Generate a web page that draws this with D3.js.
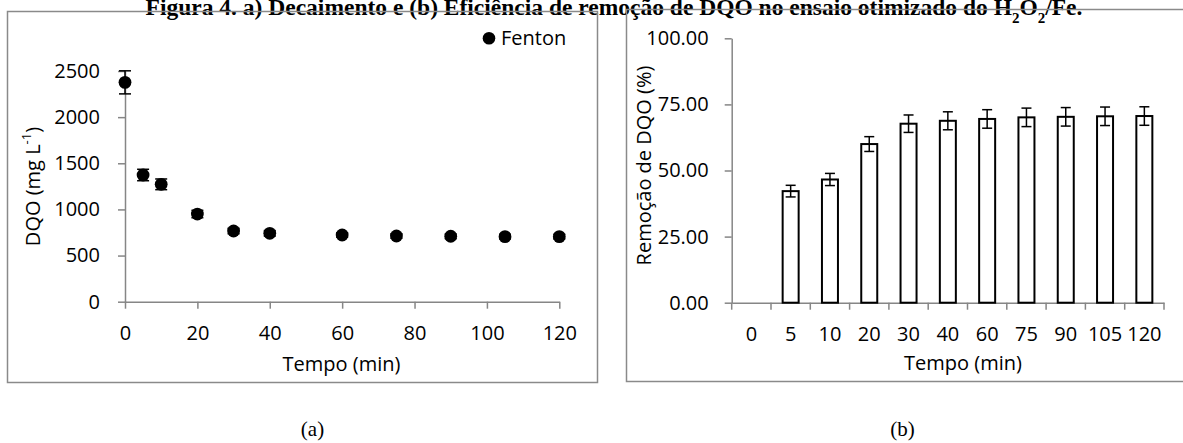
<!DOCTYPE html>
<html><head><meta charset="utf-8">
<script src="https://cdn.jsdelivr.net/npm/d3@7"></script>
<style>
body{margin:0;background:#fff;}
svg{display:block;}
text{font-family:"Open Sans",sans-serif;fill:#000;}
</style></head>
<body>
<script>
// ---- data ----
const timesA = [0,5,10,20,30,40,60,75,90,105,120];
const dqo    = [2377,1373,1272,950,766,741,723,712,709,705,705];
const dqoErr = [125,62,58,40,30,30,25,25,25,25,25];
const xTicksA = [0,20,40,60,80,100,120];
const yTicksA = [0,500,1000,1500,2000,2500];

const catsB  = ["0","5","10","20","30","40","60","75","90","105","120"];
const remocao = [0,42.2,46.6,60.0,67.7,68.8,69.5,70.1,70.3,70.5,70.6];
const remErr  = [0,2.2,2.3,2.8,3.3,3.4,3.5,3.5,3.5,3.5,3.5];
const yTicksB = [0,25,50,75,100];

const W=1183,H=443;
const svg=d3.select("body").append("svg").attr("width",W).attr("height",H);
const axisCol="#868686";

// title
svg.append("text").attr("x",614).attr("y",15).attr("text-anchor","middle")
  .style("font-family","'Liberation Serif','Times New Roman',serif").style("font-weight","bold").style("font-size","23.5px")
  .html('Figura 4. a) Decaimento e (b) Eficiência de remoção de DQO no ensaio otimizado do H<tspan baseline-shift="sub" font-size="15px">2</tspan>O<tspan baseline-shift="sub" font-size="15px">2</tspan>/Fe.');

// panel borders
svg.append("rect").attr("x",7.5).attr("y",11.5).attr("width",590).attr("height",371)
  .attr("fill","none").attr("stroke","#8a8a8a").attr("stroke-width",1.5);
svg.append("rect").attr("x",626.5).attr("y",9.5).attr("width",600).attr("height",372)
  .attr("fill","none").attr("stroke","#8a8a8a").attr("stroke-width",1.5);

// ---------- chart A ----------
const xA=d3.scaleLinear().domain([0,120]).range([125,559.3]);
const yA=d3.scaleLinear().domain([0,2500]).range([301.7,71]);
function styleAxis(g){
  g.selectAll("path,line").attr("stroke",axisCol).attr("stroke-width",1.5);
  g.selectAll("text").style("font-size","20px").style("font-family","'Open Sans',sans-serif").attr("fill","#000");
}
svg.append("g").attr("transform",`translate(0,${yA(0)})`)
  .call(d3.axisBottom(xA).tickValues(xTicksA).tickFormat(d3.format("d")).tickSize(7).tickSizeOuter(0).tickPadding(17))
  .call(styleAxis);
svg.append("g").attr("transform",`translate(${xA(0)},0)`)
  .call(d3.axisLeft(yA).tickValues(yTicksA).tickFormat(d3.format("d")).tickSize(7).tickSizeOuter(0).tickPadding(18))
  .call(styleAxis);

const gA=svg.append("g");
timesA.forEach((t,i)=>{
  const cx=xA(t), v=dqo[i], e=dqoErr[i];
  gA.append("line").attr("x1",cx).attr("x2",cx).attr("y1",yA(v-e)).attr("y2",yA(v+e)).attr("stroke","#000").attr("stroke-width",1.5);
  [v-e,v+e].forEach(vv=>gA.append("line").attr("x1",cx-6).attr("x2",cx+6).attr("y1",yA(vv)).attr("y2",yA(vv)).attr("stroke","#000").attr("stroke-width",1.5));
  gA.append("circle").attr("cx",cx).attr("cy",yA(v)).attr("r",6.4).attr("fill","#000");
});
// legend
svg.append("circle").attr("cx",489).attr("cy",38.3).attr("r",6.3).attr("fill","#000");
svg.append("text").attr("x",501).attr("y",45).style("font-size","20px").text("Fenton");
// axis labels
svg.append("text").attr("x",341.5).attr("y",371).attr("text-anchor","middle").style("font-size","20px").text("Tempo (min)");
svg.append("text").attr("transform","translate(39.5,186.5) rotate(-90)").attr("text-anchor","middle").style("font-size","20px")
  .html('DQO (mg L<tspan baseline-shift="super" font-size="13px">-1</tspan>)');

// ---------- chart B ----------
const xB=d3.scaleBand().domain(catsB).range([731.7,1164]).padding(0);
const yB=d3.scaleLinear().domain([0,100]).range([302.7,38.3]);
const fmt=d3.format(".2f");
svg.append("g").attr("transform",`translate(${xB.range()[0]},0)`)
  .call(d3.axisLeft(yB).tickValues(yTicksB).tickFormat(fmt).tickSize(7).tickSizeOuter(0).tickPadding(16))
  .call(styleAxis);
svg.append("g").attr("transform",`translate(0,${yB(0)})`)
  .call(d3.axisBottom(xB).tickSize(0).tickSizeOuter(0).tickPadding(24))
  .call(styleAxis);
// boundary ticks
const bounds=catsB.map(c=>xB(c)).concat([xB.range()[1]]);
svg.append("g").selectAll("line").data(bounds).join("line")
  .attr("x1",d=>d).attr("x2",d=>d).attr("y1",yB(0)).attr("y2",yB(0)+7)
  .attr("stroke",axisCol).attr("stroke-width",1.5);

const bw=16;
const gB=svg.append("g");
catsB.forEach((c,i)=>{
  const v=remocao[i]; if(v<=0) return;
  const cx=xB(c)+xB.bandwidth()/2;
  gB.append("rect").attr("x",cx-bw/2).attr("y",yB(v)).attr("width",bw).attr("height",yB(0)-yB(v))
    .attr("fill","#fff").attr("stroke","#000").attr("stroke-width",2);
  const e=remErr[i];
  gB.append("line").attr("x1",cx).attr("x2",cx).attr("y1",yB(v-e)).attr("y2",yB(v+e)).attr("stroke","#000").attr("stroke-width",1.5);
  [v-e,v+e].forEach(vv=>gB.append("line").attr("x1",cx-5).attr("x2",cx+5).attr("y1",yB(vv)).attr("y2",yB(vv)).attr("stroke","#000").attr("stroke-width",1.5));
});
svg.append("text").attr("x",963).attr("y",369.5).attr("text-anchor","middle").style("font-size","20px").text("Tempo (min)");
svg.append("text").attr("transform","translate(651,165.5) rotate(-90)").attr("text-anchor","middle").style("font-size","20px")
  .text("Remoção de DQO (%)");

// captions
svg.append("text").attr("x",312.5).attr("y",436).attr("text-anchor","middle")
  .style("font-family","'Liberation Serif','Times New Roman',serif").style("font-size","21px").text("(a)");
svg.append("text").attr("x",902.5).attr("y",436).attr("text-anchor","middle")
  .style("font-family","'Liberation Serif','Times New Roman',serif").style("font-size","21px").text("(b)");
</script>
</body></html>
